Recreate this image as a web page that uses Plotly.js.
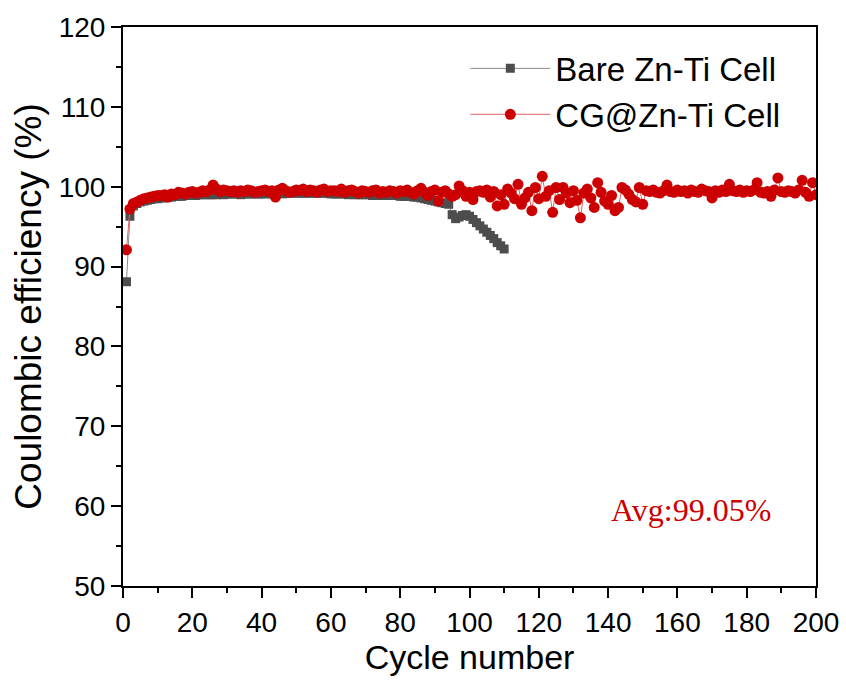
<!DOCTYPE html>
<html>
<head>
<meta charset="utf-8">
<script src="https://cdn.plot.ly/plotly-3.0.1.min.js"></script>
<style>html,body{margin:0;padding:0;background:#fff;}#chart{width:846px;height:680px;}</style>
</head>
<body>
<div id="chart"></div>
<script>
// Bare Zn-Ti Cell, cycles 1..110
const bareCE = [
  88.1, 96.3, 97.6, 97.9, 98.1, 98.2, 98.3, 98.4, 98.5, 98.5,
  98.6, 98.6, 98.7, 98.7, 98.8, 98.8, 98.8, 98.9, 98.9, 98.9,
  98.9, 99.0, 99.0, 99.0, 99.0, 99.0, 99.0, 99.1, 99.0, 99.1,
  99.1, 99.1, 99.1, 99.0, 99.1, 99.1, 99.1, 99.1, 99.1, 99.1,
  99.1, 99.2, 99.1, 99.2, 99.2, 99.1, 99.2, 99.2, 99.2, 99.2,
  99.2, 99.2, 99.2, 99.2, 99.2, 99.2, 99.2, 99.2, 99.2, 99.1,
  99.1, 99.1, 99.1, 99.1, 99.0, 99.1, 99.0, 99.0, 99.0, 99.0,
  99.0, 98.9, 99.0, 98.9, 98.9, 98.9, 98.9, 98.9, 98.9, 98.8,
  98.8, 98.8, 98.8, 98.7, 98.7, 98.6, 98.5, 98.4, 98.3, 98.2,
  98.1, 98.0, 97.9, 97.8, 96.5, 96.0, 96.2, 96.4, 96.5, 96.3,
  95.9, 95.5, 95.1, 94.7, 94.3, 93.9, 93.5, 93.0, 92.6, 92.2
];
const bareCycles = bareCE.map((_, i) => i + 1);

// CG@Zn-Ti Cell, cycles 1..200
const cgCE = [
  92.1, 97.2, 97.9, 98.1, 98.3, 98.5, 98.6, 98.7, 98.8, 98.9,
  98.9, 99.0, 98.7, 99.1, 99.0, 99.3, 99.2, 99.1, 99.3, 99.4,
  99.2, 99.3, 99.5, 99.4, 99.6, 100.2, 99.7, 99.4, 99.6, 99.5,
  99.4, 99.5, 99.3, 99.5, 99.4, 99.6, 99.5, 99.3, 99.4, 99.5,
  99.6, 99.4, 99.5, 98.7, 99.6, 99.8, 99.5, 99.3, 99.4, 99.6,
  99.5, 99.7, 99.4, 99.6, 99.5, 99.3, 99.6, 99.7, 99.4, 99.5,
  99.5, 99.4, 99.7, 99.3, 99.5, 99.6, 99.4, 99.2, 99.5, 99.4,
  99.3, 99.5, 99.6, 99.2, 99.4, 99.3, 99.5, 99.4, 99.2, 99.5,
  99.4, 99.6, 99.3, 99.1, 99.5, 99.8, 99.3, 98.9, 99.4, 99.6,
  98.2, 99.3, 99.5, 99.1, 98.8, 99.0, 100.1, 99.5, 98.8, 99.3,
  98.4, 99.4, 99.5, 99.3, 99.6, 98.7, 99.4, 97.6, 99.0, 97.8,
  99.7, 99.2, 98.5, 100.3, 97.8, 98.6, 99.3, 97.0, 99.9, 98.5,
  101.3, 98.8, 99.5, 96.8, 99.9, 98.4, 99.9, 99.2, 98.0, 99.5,
  98.3, 96.1, 99.2, 99.7, 98.6, 97.4, 100.5, 99.3, 98.2, 97.8,
  98.9, 97.0, 97.4, 99.9, 99.6, 99.05, 98.4, 98.1, 99.9, 97.8,
  99.5, 99.4, 99.6, 99.3, 99.2, 99.5, 100.2, 99.4, 99.3, 99.6,
  99.4, 99.5, 99.2, 99.6, 99.4, 99.3, 99.7, 99.5, 99.4, 98.6,
  99.5, 99.3, 99.6, 99.4, 100.3, 99.5, 99.4, 99.6, 99.3, 99.5,
  99.4, 99.6, 100.5, 99.3, 99.2, 99.4, 98.8, 99.6, 101.1, 99.4,
  99.3, 99.5, 99.4, 99.2, 99.6, 100.8, 99.3, 98.8, 100.5, 99.0
];
const cgCycles = cgCE.map((_, i) => i + 1);

const seriesNames = ["Bare Zn-Ti Cell", "CG@Zn-Ti Cell"];
const xTicks = [0, 20, 40, 60, 80, 100, 120, 140, 160, 180, 200];
const yTicks = [50, 60, 70, 80, 90, 100, 110, 120];
const avgLabel = "Avg:99.05%";

const FONT = "Arial, 'Liberation Sans', sans-serif";

const traces = [
  {
    x: bareCycles, y: bareCE, name: seriesNames[0],
    type: "scatter", mode: "lines+markers",
    line: {color: "#8c8c8c", width: 1},
    marker: {symbol: "square", size: 9, color: "#4d4d4d"}
  },
  {
    x: cgCycles, y: cgCE, name: seriesNames[1],
    type: "scatter", mode: "lines+markers",
    line: {color: "#e06060", width: 1},
    marker: {symbol: "circle", size: 11, color: "#cc0000"}
  }
];

const axisCommon = {
  showline: true, linecolor: "#000", linewidth: 2, mirror: true,
  ticks: "outside", ticklen: 10, tickwidth: 2, tickcolor: "#000",
  showgrid: false, zeroline: false,
  tickfont: {family: FONT, size: 28, color: "#000"}
};

const layout = {
  width: 846, height: 680,
  margin: {l: 123, r: 30, t: 27, b: 94},
  paper_bgcolor: "#fff", plot_bgcolor: "#fff",
  font: {family: FONT, color: "#000"},
  xaxis: Object.assign({}, axisCommon, {
    range: [0, 200], tickvals: xTicks, ticktext: xTicks.map(String),
    minor: {dtick: 10, tick0: 0, ticks: "outside", ticklen: 5, tickwidth: 2, tickcolor: "#000"},
    title: {text: "Cycle number", font: {family: FONT, size: 34, color: "#000"}, standoff: 6}
  }),
  yaxis: Object.assign({}, axisCommon, {
    range: [50, 120], tickvals: yTicks, ticktext: yTicks.map(String),
    minor: {dtick: 5, tick0: 50, ticks: "outside", ticklen: 5, tickwidth: 2, tickcolor: "#000"},
    title: {text: "Coulombic efficiency (%)", font: {family: FONT, size: 37, color: "#000"}, standoff: 6}
  }),
  showlegend: true,
  legend: {
    x: 0.494, y: 0.976, xanchor: "left", yanchor: "top",
    bgcolor: "rgba(0,0,0,0)", borderwidth: 0,
    font: {family: FONT, size: 33, color: "#000"},
    itemwidth: 80, tracegroupgap: 0
  },
  annotations: [{
    x: 164, y: 59.5, xref: "x", yref: "y", text: avgLabel, showarrow: false,
    font: {family: "'Times New Roman', 'Liberation Serif', serif", size: 32, color: "#cc0000"}
  }]
};

Plotly.newPlot("chart", traces, layout, {staticPlot: true, displayModeBar: false});
</script>
</body>
</html>
